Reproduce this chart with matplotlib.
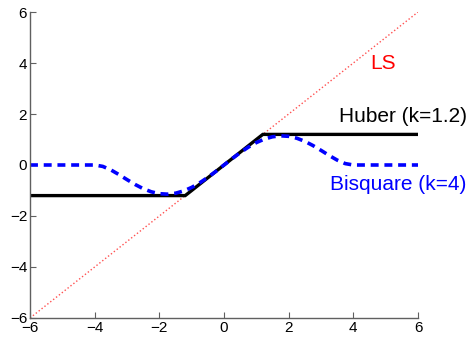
import matplotlib
matplotlib.use("Agg")
import matplotlib.pyplot as plt

matplotlib.rc('font', family=['Liberation Sans', 'DejaVu Sans'])

# LS: straight line psi(x) = x
ls_x = [-6, 6]
ls_y = [-6, 6]

# Huber (k=1.2)
huber_x = [-6, -1.2, 1.2, 6]
huber_y = [-1.2, -1.2, 1.2, 1.2]

# Bisquare (k=4), values
bisq_x = [-6, -5, -4.5, -4, -3.75, -3.5, -3.25, -3, -2.75, -2.5, -2.25, -2,
          -1.75, -1.5, -1.25, -1, -0.75, -0.5, -0.25, 0, 0.25, 0.5, 0.75, 1,
          1.25, 1.5, 1.75, 2, 2.25, 2.5, 2.75, 3, 3.25, 3.5, 3.75, 4, 4.5, 5, 6]
bisq_y = [0, 0, 0, 0, -0.055, -0.192, -0.375, -0.574, -0.764, -0.928, -1.051,
          -1.125, -1.144, -1.107, -1.018, -0.879, -0.698, -0.484, -0.248, 0,
          0.248, 0.484, 0.698, 0.879, 1.018, 1.107, 1.144, 1.125, 1.051, 0.928,
          0.764, 0.574, 0.375, 0.192, 0.055, 0, 0, 0, 0]

fig = plt.figure(figsize=(4.71, 3.47), dpi=100)
ax = fig.add_axes([0.0637, 0.0836, 0.8238, 0.8818])

ax.plot(ls_x, ls_y, color='#ff5050', ls=':', lw=1.0)
ax.plot(huber_x, huber_y, color='black', lw=2.4, solid_joinstyle='miter')
ax.plot(bisq_x, bisq_y, color='blue', lw=2.6, dashes=(2.2, 1.6))

ax.text(4.92, 4.0, 'LS', color='red', fontsize=15, ha='center', va='center')
ax.text(7.5, 1.92, 'Huber (k=1.2)', color='black', fontsize=15,
        ha='right', va='center', clip_on=False)
ax.text(7.5, -0.75, 'Bisquare (k=4)', color='blue', fontsize=15,
        ha='right', va='center', clip_on=False)

ax.set_xlim(-6, 6)
ax.set_ylim(-6, 6)
ax.set_xticks(range(-6, 7, 2))
ax.set_yticks(range(-6, 7, 2))
ax.set_xticklabels(['\u22126', '\u22124', '\u22122', '0', '2', '4', '6'])
ax.set_yticklabels(['\u22126', '\u22124', '\u22122', '0', '2', '4', '6'])
for side in ['top', 'right']:
    ax.spines[side].set_visible(False)
for side in ['left', 'bottom']:
    ax.spines[side].set_color('#606060')
    ax.spines[side].set_linewidth(1.0)
ax.tick_params(direction='in', length=4, color='#606060', labelsize=11, pad=2)

plt.savefig('out.png', dpi=100, facecolor='w')
